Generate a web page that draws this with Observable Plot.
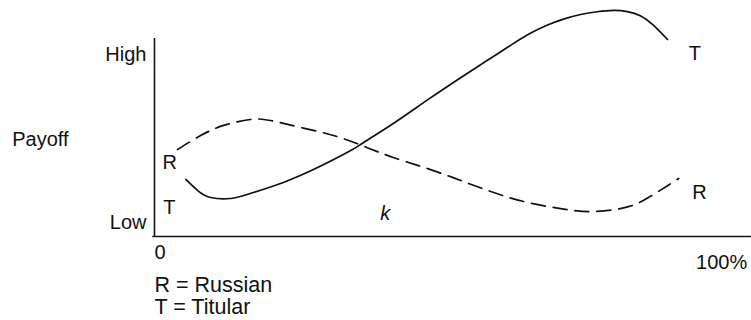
<!DOCTYPE html>
<html>
<head>
<meta charset="utf-8">
<script src="https://cdn.jsdelivr.net/npm/d3@7"></script>
<script src="https://cdn.jsdelivr.net/npm/@observablehq/plot@0.6"></script>
<style>
  html, body { margin: 0; padding: 0; background: #fff; }
  #chart svg { display: block; }
</style>
</head>
<body>
<div id="chart"></div>
<script>
// Share of population (k, %) on x; payoff (Low..High) on y
const titularX = [5.3, 7.3, 9.5, 12.9, 16.2, 21.8, 27.6, 33.2, 35.4, 40.4, 46.2, 51.8, 55.2, 58.0, 60.7, 63.6, 66.5, 69.2, 72.1, 74.9, 77.7, 80.0, 82.2, 84.4, 86.8];
const titularY = [28.8, 23.2, 19.7, 19.2, 21.7, 27.3, 34.8, 43.4, 47.5, 57.1, 69.0, 80.2, 86.8, 92.2, 97.4, 102.6, 106.8, 109.8, 112.1, 113.5, 114.2, 113.6, 111.5, 106.8, 99.5];

const russianX = [3.9, 7.8, 11.7, 16.2, 19.6, 24.7, 30.3, 35.4, 40.4, 46.2, 51.8, 57.4, 63.1, 68.7, 73.8, 78.8, 82.7, 88.7];
const russianY = [43.9, 51.0, 56.1, 59.1, 58.6, 55.1, 51.0, 45.6, 39.9, 34.3, 28.3, 22.2, 17.2, 14.1, 12.6, 14.1, 18.2, 29.3];

const yTicks = [6.8, 92.1];
const yTickLabels = ["Low", "High"];

// Annotation labels (data-space anchors)
const curveLabelText = ["R", "T", "T", "R"];
const curveLabelX = [1.35, 1.5, 90.4, 91.0];
const curveLabelY = [34.3, 11.6, 88.9, 18.7];

const xStartLabel = "0";
const xEndLabel = "100%";

const legendText = ["R = Russian", "T = Titular"];
const legendY = [-27.8, -38.9];

const titular = titularX.map((x, i) => ({x, y: titularY[i]}));
const russian = russianX.map((x, i) => ({x, y: russianY[i]}));
const curveLabels = curveLabelText.map((t, i) => ({t, x: curveLabelX[i], y: curveLabelY[i]}));
const legend = legendText.map((t, i) => ({t, x: 0, y: legendY[i]}));

const ink = "#111";

const chart = Plot.plot({
  width: 751,
  height: 320,
  marginLeft: 154,
  marginRight: 6,
  marginTop: 38,
  marginBottom: 84,
  x: {domain: [0, 100], axis: null},
  y: {domain: [0, 100], axis: null},
  style: {fontFamily: "'Liberation Sans', Arial, Helvetica, sans-serif", fontSize: "20px", color: ink, background: "#fff"},
  marks: [
    Plot.axisY({ticks: yTicks, tickFormat: (d, i) => yTickLabels[i], tickSize: 0, tickPadding: 8, fill: ink, label: null}),
    Plot.ruleX([0], {y1: 0, y2: 100, stroke: ink, strokeWidth: 1.6}),
    Plot.ruleY([0], {x1: -0.3, x2: 101, stroke: ink, strokeWidth: 1.6}),
    Plot.line(russian, {x: "x", y: "y", curve: "natural", stroke: ink, strokeWidth: 1.7, strokeDasharray: "14,8"}),
    Plot.line(titular, {x: "x", y: "y", curve: "natural", stroke: ink, strokeWidth: 1.7}),
    Plot.text(curveLabels, {x: "x", y: "y", text: "t", textAnchor: "start", lineAnchor: "bottom", fill: ink}),
    Plot.text(["k"], {x: 38.2, y: 8.1, text: d => d, textAnchor: "start", lineAnchor: "bottom", fill: ink, fontStyle: "italic"}),
    Plot.text(["Payoff"], {x: -19.3, y: 45.5, text: d => d, textAnchor: "middle", lineAnchor: "bottom", fill: ink}),
    Plot.text([xStartLabel], {x: 0, y: -11.6, text: d => d, textAnchor: "start", lineAnchor: "bottom", fill: ink}),
    Plot.text([xEndLabel], {x: 100.3, y: -16.2, text: d => d, textAnchor: "end", lineAnchor: "bottom", fill: ink}),
    Plot.text(legend, {x: "x", y: "y", text: "t", textAnchor: "start", lineAnchor: "bottom", fill: ink, fontSize: 21.5})
  ]
});

document.getElementById("chart").appendChild(chart);
</script>
</body>
</html>
